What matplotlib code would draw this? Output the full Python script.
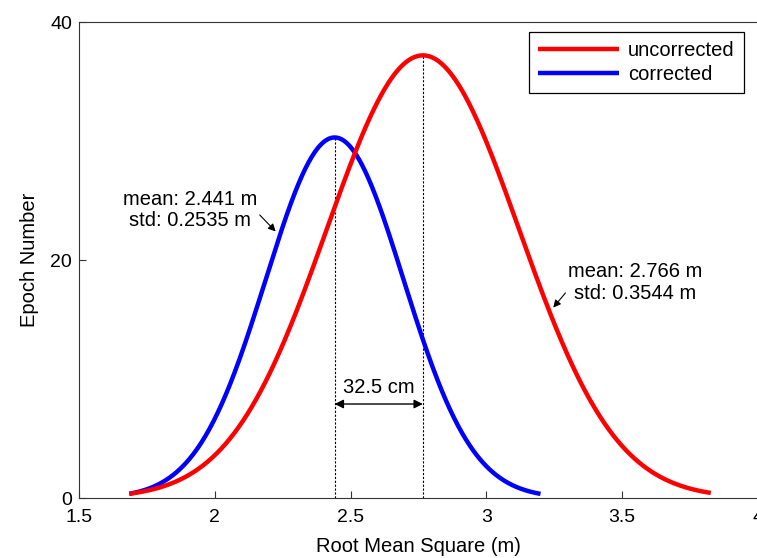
import matplotlib

matplotlib.use("Agg")

import matplotlib.pyplot as plt
import numpy as np

plt.rcParams["font.family"] = ["Liberation Sans", "DejaVu Sans"]

# fitted normal curves
series = ["uncorrected", "corrected"]
means = [2.766, 2.441]
stds = [0.3544, 0.2535]
peaks = [37.2, 30.3]
x_starts = [1.685, 1.685]
x_ends = [3.826, 3.199]
colors = ["#ff0000", "#0000ff"]

x_ticks = [1.5, 2, 2.5, 3, 3.5, 4]
x_tick_labels = ["1.5", "2", "2.5", "3", "3.5", "4"]
y_ticks = [0, 20, 40]

shift_label = "32.5 cm"
shift_y = 7.9


def normal_curve(x, mu, sigma, peak):
    return peak * np.exp(-0.5 * ((x - mu) / sigma) ** 2)


fig = plt.figure(figsize=(7.57, 5.58), dpi=100)
ax = fig.add_axes([0.1044, 0.1075, 0.897, 0.853])

# blue first, red on top
handles = {}
for i in [1, 0]:
    x = np.linspace(x_starts[i], x_ends[i], 400)
    (line,) = ax.plot(x, normal_curve(x, means[i], stds[i], peaks[i]),
                      color=colors[i], lw=3.2, solid_capstyle="butt", zorder=3 - i)
    handles[series[i]] = line
    ax.plot([means[i], means[i]], [0, peaks[i]], color="black", lw=0.8,
            ls=(0, (2.0, 1.5)), zorder=1)

ax.annotate("", xy=(means[1], shift_y), xytext=(means[0], shift_y),
            arrowprops=dict(arrowstyle="<|-|>", color="black", lw=1.0,
                            mutation_scale=13, shrinkA=0, shrinkB=0))
ax.text((means[0] + means[1]) / 2, shift_y + 0.55, shift_label, ha="center",
        va="bottom", fontsize=14.5)

ax.annotate(f"mean: {means[1]} m\nstd: {stds[1]} m", xy=(2.224, 22.4),
            xytext=(2.155, 24.2), ha="right", va="center", fontsize=14.5,
            multialignment="center", linespacing=1.15,
            arrowprops=dict(arrowstyle="-|>", color="black", lw=0.8,
                            mutation_scale=11, shrinkA=0, shrinkB=0,
                            relpos=(1.0, 0.45)))
ax.annotate(f"mean: {means[0]} m\nstd: {stds[0]} m", xy=(3.246, 16.0),
            xytext=(3.301, 18.1), ha="left", va="center", fontsize=14.5,
            multialignment="center", linespacing=1.22,
            arrowprops=dict(arrowstyle="-|>", color="black", lw=0.8,
                            mutation_scale=11, shrinkA=0, shrinkB=0,
                            relpos=(0.03, 0.45)))

ax.set_xlim(1.5, 4)
ax.set_ylim(0, 40)
ax.set_xticks(x_ticks)
ax.set_xticklabels(x_tick_labels)
ax.set_yticks(y_ticks)
ax.tick_params(direction="in", length=5, labelsize=14, color="#333333")
ax.tick_params(axis="x", pad=8)
ax.tick_params(axis="y", pad=5)
for spine in ax.spines.values():
    spine.set_color("#333333")
ax.set_xlabel("Root Mean Square (m)", fontsize=14.5, labelpad=8)
ax.set_ylabel("Epoch Number", fontsize=14.5, labelpad=8)

leg = ax.legend([handles[s] for s in series], series, loc="upper right",
                bbox_to_anchor=(0.979, 0.979), fontsize=14.5, fancybox=False,
                edgecolor="black", framealpha=1, handlelength=4.0,
                handletextpad=0.45, borderpad=0.45, labelspacing=0.25,
                borderaxespad=0)
leg.get_frame().set_linewidth(0.9)

fig.savefig("out.png", dpi=100)
